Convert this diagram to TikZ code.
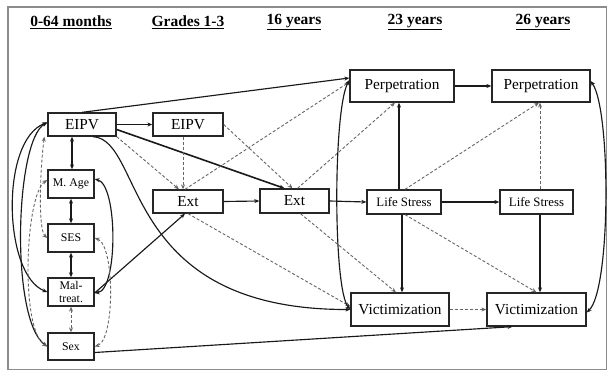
\documentclass[tikz,border=0pt]{standalone}
\usepackage{fontspec}
\setmainfont{Liberation Serif}
\usetikzlibrary{arrows.meta,calc}

\begin{document}
\begin{tikzpicture}[x=1pt,y=-1pt,
  bigbox/.style={draw=black!85,line width=1.3pt,inner sep=0pt,
    font=\fontsize{15.3}{17}\selectfont},
  smallbox/.style={draw=black!85,line width=1.3pt,inner sep=0pt,
    font=\fontsize{11.8}{12.5}\selectfont,align=center},
  lsbox/.style={draw=black!85,line width=1.3pt,inner sep=0pt,
    font=\fontsize{12.8}{14}\selectfont},
  header/.style={font=\fontsize{15.5}{17}\selectfont\bfseries},
  tip/.tip={Stealth[length=5pt,width=4pt]},
  path/.style={draw=black!90,line width=1.15pt,-tip},
  thick path/.style={draw=black!90,line width=1.6pt,-tip},
  both/.style={draw=black!90,line width=1.15pt,tip-tip},
  dpath/.style={draw=black!60,line width=0.9pt,dash pattern=on 3pt off 2pt,-tip},
  dboth/.style={draw=black!60,line width=0.9pt,dash pattern=on 3pt off 2pt,tip-tip}]

\useasboundingbox (0,0) rectangle (609,371);
\draw[black!45,line width=1.2pt] (8,7) rectangle (606.5,369.5);

% time headers
\node[header] (h0) at (71,22)  {\underline{0-64 months}};
\node[header] (h1) at (188,22) {\underline{Grades 1-3}};
\node[header] (h2) at (294,22) {\underline{16 years}};
\node[header] (h3) at (415,22) {\underline{23 years}};
\node[header] (h4) at (543,22) {\underline{26 years}};

% variables
\node[bigbox,minimum width=68pt,minimum height=23pt] (e0) at (82,124.5) {EIPV};
\node[bigbox,minimum width=70pt,minimum height=23pt] (e1) at (188,124.5) {EIPV};
\node[smallbox,minimum width=46pt,minimum height=28pt] (ma) at (71,184) {M. Age};
\node[smallbox,minimum width=46pt,minimum height=28pt] (ses) at (71,238) {SES};
\node[smallbox,minimum width=46pt,minimum height=28pt] (mt) at (71,292) {Mal-\\treat.};
\node[smallbox,minimum width=46pt,minimum height=27pt] (sex) at (71,346.5) {Sex};
\node[bigbox,minimum width=70pt,minimum height=23pt] (x1) at (188,201.5) {Ext};
\node[bigbox,minimum width=69pt,minimum height=24pt] (x2) at (294.5,201) {Ext};
\node[lsbox,minimum width=74pt,minimum height=24pt] (ls1) at (404,202) {Life Stress};
\node[lsbox,minimum width=73pt,minimum height=24pt] (ls2) at (536.5,202) {Life Stress};
\node[bigbox,minimum width=104pt,minimum height=32pt] (p1) at (402,86) {Perpetration};
\node[bigbox,minimum width=98pt,minimum height=32pt] (p2) at (541,86) {Perpetration};
\node[bigbox,minimum width=98pt,minimum height=33pt] (v1) at (400,309.5) {Victimization};
\node[bigbox,minimum width=99pt,minimum height=33pt] (v2) at (536.5,309.5) {Victimization};

% solid paths
\draw[path] (e0.east) -- (e1.west);
\draw[path] (e0.north) -- ([yshift=8pt]p1.west);
\draw[thick path] ([yshift=-5pt]e0.east) -- ([xshift=-10pt]x2.north);
\draw[path] ([xshift=11pt]e0.south) .. controls (145,140) and (120,310) .. (v1.west);
\draw[path] (x1.east) -- (x2.west);
\draw[path] (x2.east) -- (ls1.west);
\draw[path] (ls1.east) -- (ls2.west);
\draw[path] (p1.east) -- (p2.west);
\draw[path] ([xshift=-5pt]ls1.north) -- ([xshift=-5pt]ls1.north |- p1.south);
\draw[path] ([xshift=-2pt]ls1.south) -- ([xshift=-2pt]ls1.south |- v1.north);
\draw[path] ([xshift=3.5pt]ls2.south) -- ([xshift=3.5pt]ls2.south |- v2.north);
\draw[path] ([yshift=-6pt]sex.east) -- ([xshift=-24pt]v2.south);
\draw[path] ([yshift=-1pt]mt.east) -- ([xshift=-3pt]x1.south);

% covariances among early variables
\draw[both] ([xshift=1pt]ma.north |- e0.south) -- ([xshift=1pt]ma.north);
\draw[both] (ma.south) -- (ses.north);
\draw[both] (ses.south) -- (mt.north);
\draw[dboth] (mt.south) -- (sex.north);
\draw[both] ([yshift=5pt]ma.east) .. controls (118,185) and (118,290) .. ([yshift=-1pt]mt.east);
\draw[dboth] (ses.east) .. controls (115,245) and (115,340) .. (sex.east);
\draw[both] ([yshift=2pt]e0.west) .. controls (0,140) and (3,275) .. (mt.west);
\draw[both] ([yshift=2pt]e0.west) .. controls (15,140) and (10,320) .. (sex.west);
\draw[dboth] ([xshift=-3pt]e0.south west) .. controls (40,170) and (38,230) .. (ses.west);
\draw[dboth] ([yshift=4pt]ma.west) .. controls (25,195) and (20,330) .. (sex.west);

% dashed paths
\draw[dpath] (e0.south east) -- ([xshift=-9pt]x1.north);
\draw[dpath] ([xshift=-5pt]e1.south) -- ([xshift=-5pt]x1.north);
\draw[dpath] (e1.east) -- ([xshift=-2pt]x2.north);
\draw[dpath] ([xshift=-3pt]x1.north) -- ([yshift=4pt]p1.west);
\draw[dpath] ([xshift=3pt]x2.north) -- ([xshift=-7pt]p1.south);
\draw[dpath] (x1.south) -- ([yshift=3pt]v1.west);
\draw[dpath] ([xshift=6pt]x2.south) -- ([xshift=-4pt]v1.north);
\draw[dpath] ([xshift=1pt]ls1.north) -- ([xshift=-2pt]p2.south);
\draw[dpath] ([xshift=3.5pt]ls2.north) -- ([xshift=3.5pt]ls2.north |- p2.south);
\draw[dpath] ([xshift=1pt]ls1.south) -- (v2.north);
\draw[dpath] (v1.east) -- (v2.west);

% covariances among outcomes
\draw[both] ([yshift=6pt]p1.west) .. controls (333,110) and (333,290) .. (v1.west);
\draw[both] ([yshift=5pt]p2.east) .. controls (611,110) and (611,290) .. ([yshift=-3pt]v2.east);
\end{tikzpicture}
\end{document}
